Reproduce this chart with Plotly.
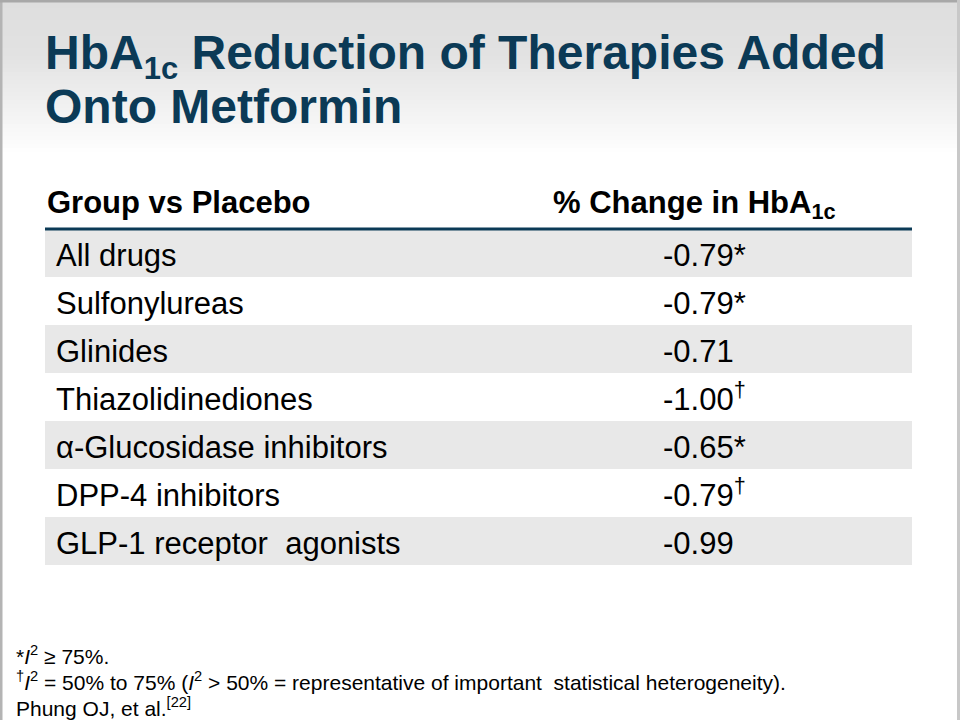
import plotly.graph_objects as go

# ---------------- data ----------------
title_lines = ["HbA<sub><span style=\"font-size:31px\">1c</span></sub> Reduction of Therapies Added",
               "Onto Metformin"]
header_labels = ["Group vs Placebo", "% Change in HbA<sub>1c</sub>"]
groups = ["All drugs", "Sulfonylureas", "Glinides", "Thiazolidinediones",
          "α-Glucosidase inhibitors", "DPP-4 inhibitors", "GLP-1 receptor  agonists"]
values = [-0.79, -0.79, -0.71, -1.00, -0.65, -0.79, -0.99]
value_marks = ["*", "*", "", "<sup>†</sup>", "*", "<sup>†</sup>", ""]
footnotes = [
    "*<i>I</i><sup>2</sup> ≥ 75%.",
    "<sup>†</sup><i>I</i><sup>2</sup> = 50% to 75% (<i>I</i><sup>2</sup> > 50% = representative of important  statistical heterogeneity).",
    "Phung OJ, et al.<sup>[22]</sup>",
]

W, H = 960, 720
NAVY = "#0b3a56"
FONT = "Liberation Sans, Arial, sans-serif"

rows = list(range(len(groups)))
value_text = [f"{v:.2f}{m}" for v, m in zip(values, value_marks)]
band_colors = ["#e8e8e8" if i % 2 == 0 else "#ffffff" for i in rows]
TEXT_DY = 0.1  # small downward nudge so text sits centred in each band

fig = go.Figure()

# row bands
fig.add_trace(go.Bar(
    x=[1] * len(rows), y=rows, base=0, orientation="h", width=1,
    marker=dict(color=band_colors, line=dict(width=0)),
    hoverinfo="skip", showlegend=False,
))
# group names
fig.add_trace(go.Scatter(
    x=[0.0127] * len(rows), y=[r + TEXT_DY for r in rows], mode="text", text=groups,
    textposition="middle right", cliponaxis=False,
    textfont=dict(family=FONT, size=31, color="#000000"),
    hoverinfo="skip", showlegend=False,
))
# values
fig.add_trace(go.Scatter(
    x=[0.7128] * len(rows), y=[r + TEXT_DY for r in rows], mode="text", text=value_text,
    textposition="middle right", cliponaxis=False,
    textfont=dict(family=FONT, size=31, color="#000000"),
    hoverinfo="skip", showlegend=False,
))
# header
fig.add_trace(go.Scatter(
    x=[0.0023, 0.586], y=[-1.0, -1.0], mode="text",
    text=[f"<b>{h}</b>" for h in header_labels],
    textposition="middle right", cliponaxis=False,
    textfont=dict(family=FONT, size=31, color="#000000"),
    hoverinfo="skip", showlegend=False,
))

shapes = []
# background gradient (grey at top fading to white)
n = 40
top_end = 55
for i in range(n):
    y0 = i * 160 / n
    y1 = (i + 1) * 160 / n
    ym = (y0 + y1) / 2
    if ym < top_end:
        c = 222 + (ym / top_end) * 4
    else:
        t = min(1.0, (ym - top_end) / (155 - top_end))
        c = 226 + t * (255 - 226)
    c = int(round(c))
    shapes.append(dict(type="rect", xref="paper", yref="paper", layer="below",
                       x0=0, x1=1, y0=1 - y1 / H, y1=1 - y0 / H,
                       fillcolor=f"rgb({c},{c},{c})", line=dict(width=0)))
# slide borders
shapes.append(dict(type="rect", xref="paper", yref="paper", layer="above",
                   x0=0, x1=2.5 / W, y0=0, y1=1, fillcolor="#b4b4b4", line=dict(width=0)))
shapes.append(dict(type="rect", xref="paper", yref="paper", layer="above",
                   x0=0, x1=1, y0=1 - 2.5 / H, y1=1, fillcolor="#a8a8a8", line=dict(width=0)))
shapes.append(dict(type="rect", xref="paper", yref="paper", layer="above",
                   x0=1 - 3 / W, x1=1, y0=0, y1=1, fillcolor="#c8c8c8", line=dict(width=0)))
# header rule
shapes.append(dict(type="line", xref="x", yref="y", x0=0, x1=1, y0=-0.5, y1=-0.5,
                   line=dict(color=NAVY, width=3)))

annotations = []
title_y = [56, 106]
for t, yy in zip(title_lines, title_y):
    annotations.append(dict(text=f"<b>{t}</b>", xref="paper", yref="paper",
                            x=43 / W, y=1 - yy / H, xanchor="left", yanchor="middle",
                            showarrow=False,
                            font=dict(family=FONT, size=48, color=NAVY)))
foot_y = [655, 681, 707]
for t, yy in zip(footnotes, foot_y):
    annotations.append(dict(text=t, xref="paper", yref="paper",
                            x=14 / W, y=1 - yy / H, xanchor="left", yanchor="middle",
                            showarrow=False,
                            font=dict(family=FONT, size=21, color="#000000")))

fig.update_layout(
    width=W, height=H,
    margin=dict(l=0, r=0, t=0, b=0),
    paper_bgcolor="#ffffff", plot_bgcolor="rgba(0,0,0,0)",
    xaxis=dict(domain=[45 / W, 912 / W], range=[0, 1], visible=False, fixedrange=True),
    yaxis=dict(domain=[1 - 565 / H, 1 - 181 / H], range=[6.5, -1.5], visible=False, fixedrange=True),
    shapes=shapes, annotations=annotations,
    bargap=0, showlegend=False,
)

fig.write_html("out.html", config={"displayModeBar": False},
               post_script="document.body.style.margin='0';")
